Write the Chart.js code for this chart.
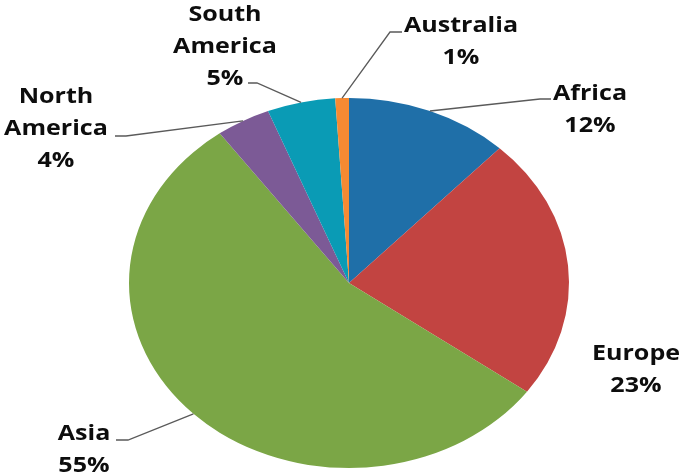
<!DOCTYPE html>
<html>
<head>
<meta charset="utf-8">
<script src="https://cdn.jsdelivr.net/npm/chart.js@4"></script>
<style>
  html, body { margin: 0; padding: 0; background: #fff; }
  #wrap { width: 685px; height: 475px; }
</style>
</head>
<body>
<div id="wrap"><canvas id="myChart" width="685" height="475"></canvas></div>
<script>
// data
const continents = ['Africa', 'Europe', 'Asia', 'North America', 'South America', 'Australia'];
const shares = [12, 23, 55, 4, 5, 1];
const sliceColors = ['#1F6FA8', '#C24441', '#7BA646', '#7C5A96', '#0A9BB5', '#F68A32'];

// label layout: text centre x, first baseline y, line breaks, leader elbow points
const labelLayout = [
    { x: 590, y: 100, lines: ['Africa'], leader: [[540, 99], [551, 99]] },
    { x: 636, y: 360, lines: ['Europe'], leader: null },
    { x: 84, y: 440, lines: ['Asia'], leader: [[128, 440], [116, 440]] },
    { x: 56, y: 103, lines: ['North', 'America'], leader: [[126, 136], [115, 136]] },
    { x: 225, y: 21, lines: ['South', 'America'], leader: [[257, 83], [248, 83]] },
    { x: 461, y: 32, lines: ['Australia'], leader: [[390, 32], [402, 32]] }
];

const SX = 220 / 185; // pie is stretched sideways in the original
const LINE_H = 32;

const stretchPie = {
    id: 'stretchPie',
    beforeDatasetsDraw(chart) {
        const arc = chart.getDatasetMeta(0).data[0];
        const ctx = chart.ctx;
        ctx.save();
        ctx.translate(arc.x, arc.y);
        ctx.scale(SX, 1);
        ctx.translate(-arc.x, -arc.y);
    },
    afterDatasetsDraw(chart) {
        chart.ctx.restore();
    }
};

const pieLabels = {
    id: 'pieLabels',
    afterDraw(chart) {
        const ctx = chart.ctx;
        const meta = chart.getDatasetMeta(0);
        const total = shares.reduce((a, b) => a + b, 0);
        meta.data.forEach((arc, i) => {
            const lay = labelLayout[i];
            const mid = (arc.startAngle + arc.endAngle) / 2;
            const ax = arc.x + Math.cos(mid) * arc.outerRadius * SX;
            const ay = arc.y + Math.sin(mid) * arc.outerRadius;
            if (lay.leader) {
                ctx.save();
                ctx.strokeStyle = '#5a5a5a';
                ctx.lineWidth = 1.3;
                ctx.beginPath();
                ctx.moveTo(ax, ay);
                lay.leader.forEach(p => ctx.lineTo(p[0], p[1]));
                ctx.stroke();
                ctx.restore();
            }
            const pct = Math.round(shares[i] / total * 100) + '%';
            const lines = lay.lines.concat([pct]);
            ctx.save();
            ctx.fillStyle = '#0d0d0d';
            ctx.font = 'bold 22px "Open Sans"';
            ctx.textAlign = 'center';
            ctx.textBaseline = 'alphabetic';
            lines.forEach((t, k) => {
                ctx.save();
                ctx.translate(lay.x, lay.y + k * LINE_H);
                ctx.scale(1.14, 1);
                ctx.fillText(t, 0, 0);
                ctx.restore();
            });
            ctx.restore();
        });
    }
};

const ctx = document.getElementById('myChart');
new Chart(ctx, {
    type: 'pie',
    data: {
        labels: continents,
        datasets: [{
            data: shares,
            backgroundColor: sliceColors,
            borderWidth: 0
        }]
    },
    options: {
        responsive: false,
        animation: false,
        layout: { padding: { top: 98, bottom: 7, left: 164, right: 151 } },
        plugins: {
            legend: { display: false },
            tooltip: { enabled: false }
        }
    },
    plugins: [stretchPie, pieLabels]
});
</script>
</body>
</html>
